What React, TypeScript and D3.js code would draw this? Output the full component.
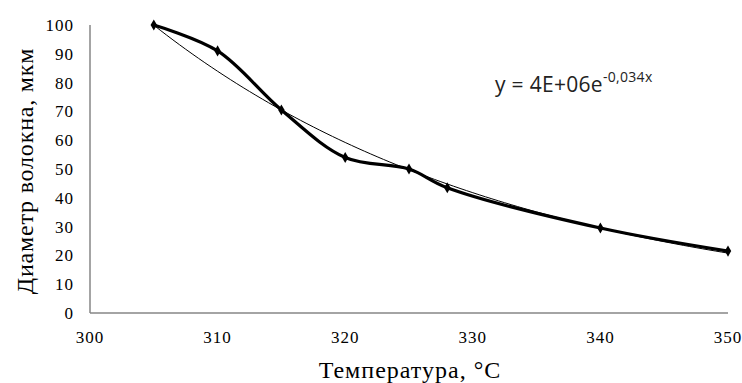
import React from 'react';
import * as d3 from 'd3';

// Температура, °C
const temps = [305, 310, 315, 320, 325, 328, 340, 350];
// Диаметр волокна, мкм
const diameters = [100, 91, 70.5, 54, 50, 43.5, 29.5, 21.5];
const xTicks = [300, 310, 320, 330, 340, 350];
const yTicks = [0, 10, 20, 30, 40, 50, 60, 70, 80, 90, 100];

const W = 742;
const H = 383;
const margin = { top: 25, right: 14, bottom: 70, left: 90 };

// exponential least-squares trend (as Excel does it)
function expFit(xs: number[], ys: number[]) {
  const ly = ys.map(v => Math.log(v));
  const mx = d3.mean(xs) as number;
  const my = d3.mean(ly) as number;
  let sxy = 0, sxx = 0;
  xs.forEach((x, i) => {
    sxy += (x - mx) * (ly[i] - my);
    sxx += (x - mx) * (x - mx);
  });
  const b = sxy / sxx;
  const a = Math.exp(my - b * mx);
  return (x: number) => a * Math.exp(b * x);
}

export default function App() {
  const x = d3.scaleLinear().domain([300, 350]).range([margin.left, W - margin.right]);
  const y = d3.scaleLinear().domain([0, 100]).range([H - margin.bottom, margin.top]);

  const pts: [number, number][] = temps.map((t, i) => [t, diameters[i]]);
  const line = d3.line<[number, number]>()
    .x(d => x(d[0]))
    .y(d => y(d[1]))
    .curve(d3.curveCatmullRom.alpha(0.5));

  const fit = expFit(temps, diameters);
  const trendPts: [number, number][] = d3.range(temps[0], temps[temps.length - 1] + 0.01, 0.5).map(t => [t, fit(t)]);
  const trend = d3.line<[number, number]>().x(d => x(d[0])).y(d => y(d[1]));

  const tickFont = { fontFamily: 'Liberation Serif', fontSize: 17, letterSpacing: 1 };
  const diamond = d3.symbol().type(d3.symbolDiamond).size(36)();

  return (
    <svg width={W} height={H} style={{ position: 'absolute', left: 0, top: 0, background: '#fff' }}>
      {/* axes */}
      <line x1={x(300)} x2={x(300)} y1={y(100)} y2={y(0)} stroke="#868686" strokeWidth={1.5} />
      <line x1={x(300)} x2={x(350)} y1={y(0)} y2={y(0)} stroke="#868686" strokeWidth={1.5} />

      {yTicks.map(t => (
        <text key={t} x={74} y={y(t)} dy="0.35em" textAnchor="end" {...tickFont}>{t}</text>
      ))}
      {xTicks.map(t => (
        <text key={t} x={x(t)} y={y(0) + 30} textAnchor="middle" {...tickFont}>{t}</text>
      ))}

      <path d={trend(trendPts) || ''} fill="none" stroke="#000" strokeWidth={1} />
      <path d={line(pts) || ''} fill="none" stroke="#000" strokeWidth={3.2} strokeLinejoin="round" />
      {pts.map((p, i) => (
        <path key={i} d={diamond || ''} transform={`translate(${x(p[0])},${y(p[1])})`} fill="#000" />
      ))}

      <text x={495} y={92} fontFamily="Open Sans" fontSize={21} fill="#222" letterSpacing={0.3}>
        y = 4E+06e
        <tspan dy={-10} fontSize={14}>-0,034x</tspan>
      </text>

      <text x={410} y={378} textAnchor="middle" fontFamily="Liberation Serif" fontSize={24} letterSpacing={1}>
        Температура, °C
      </text>
      <text transform={`translate(33,${(y(0) + y(100)) / 2 + 2}) rotate(-90)`} textAnchor="middle"
        fontFamily="Liberation Serif" fontSize={24} letterSpacing={0.8}>
        Диаметр волокна, мкм
      </text>
    </svg>
  );
}
